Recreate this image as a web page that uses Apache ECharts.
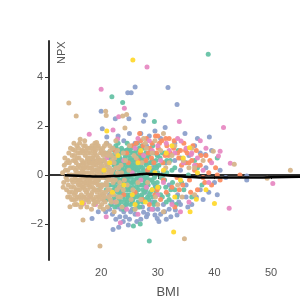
<!DOCTYPE html>
<html><head><meta charset="utf-8">
<script src="https://cdn.jsdelivr.net/npm/echarts@6/dist/echarts.min.js"></script>
<style>html,body{margin:0;padding:0;background:#fff}#c{width:300px;height:300px}</style>
</head><body><div id="c"></div>
<script>
const xTicks = [20, 30, 40, 50];
const yTicks = [-2, 0, 2, 4];

const tanPts = [[13.2,0.1],[13.4,-0.3],[13.5,0.4],[13.8,-0.1],[13.6,0.7],[13.9,-0.6],[14.1,0.2],[14.3,0.9],[14.2,-0.4],[14.5,-0.9],[14.4,0.5],[14.7,0.0],[14.8,-0.2],[14.6,1.1],[14.9,-0.7],[14.5,-1.29],
[15.1,0.3],[15.2,-0.5],[15.3,0.8],[15.4,-0.1],[15.5,-1.0],[15.6,0.5],[15.7,1.2],[15.8,-0.3],[15.9,0.1],[15.3,-0.8],[15.0,1.05],[15.6,-0.6],[15.9,0.9],[15.2,0.0],[15.7,-1.2],[15.4,0.6],[15.8,-0.9],[15.5,0.2],
[16.0,-0.4],[16.1,0.7],[16.2,1.3],[16.3,-0.2],[16.4,0.3],[16.5,-0.8],[16.6,1.0],[16.7,-1.1],[16.8,0.5],[16.9,-0.5],[16.2,0.0],[16.5,0.4],[16.8,-0.1],[16.1,-0.9],[16.6,-0.3],[16.9,0.9],[16.3,1.46],[16.4,-1.3],[16.7,0.2],[16.9,1.2],
[17.0,0.1],[17.1,-0.6],[17.2,0.8],[17.3,-1.0],[17.4,0.4],[17.5,-0.2],[17.6,1.1],[17.7,-0.8],[17.8,0.6],[17.9,-0.4],[17.1,1.4],[17.3,0.0],[17.5,-1.3],[17.7,0.3],[17.9,-0.1],[17.2,-0.3],[17.6,0.7],[17.8,-1.1],[17.4,-0.7],[17.0,0.5],
[18.0,-0.2],[18.1,0.9],[18.2,-0.9],[18.3,0.3],[18.4,1.2],[18.5,-0.5],[18.6,0.0],[18.7,-1.2],[18.8,0.6],[18.9,-0.3],[18.2,0.5],[18.4,-0.7],[18.6,1.0],[18.8,-1.0],[18.1,-0.1],[18.3,-1.4],[18.5,0.2],[18.7,0.8],[18.9,1.3],[18.0,0.7],
[19.0,-0.6],[19.1,0.4],[19.2,1.33],[19.3,-0.1],[19.4,-1.1],[19.5,0.7],[19.6,-0.4],[19.7,0.1],[19.8,-0.8],[19.9,0.9],[19.2,-0.3],[19.4,0.2],[19.6,1.1],[19.8,-1.3],[19.1,-0.9],[19.3,0.6],[19.5,-0.2],[19.7,-0.6],[19.9,0.3],[19.0,1.0],
[20.0,-0.5],[20.2,0.2],[20.4,0.8],[20.6,-0.9],[20.8,0.5],[20.1,-1.2],[20.3,1.1],[20.5,-0.1],[20.7,-0.4],[20.9,1.3],[20.8,2.61],[20.9,2.44],[20.2,-0.7],[20.6,0.0],[20.4,-1.4],[20.7,0.9],
[21.0,0.4],[21.2,-0.6],[21.4,0.9],[21.6,-1.0],[21.8,0.1],[21.3,-0.2],[21.5,1.2],[21.7,-0.8],[21.9,0.6],[21.1,-1.3],[21.5,0.3],
[22.1,-0.3],[22.4,0.7],[22.7,-1.1],[22.9,1.0],[23.2,-0.5],[23.5,0.4],[23.8,2.42],[23.7,-1.3],[24.2,1.92],[24.5,2.48],[22.6,1.4],[23.9,0.9],[23.4,-0.9],[24.1,-0.2],[22.3,-1.5],
[25.0,1.2],[25.6,-0.6],[26.2,0.7],[27.0,-1.0],[27.5,1.5],[28.2,-0.3],[29.0,0.9],[30.0,-1.2],[31.0,1.70],[31.0,-1.5],[32.0,0.5],[33.5,-0.4],[34.7,-2.6],[35.5,0.3],[36.5,-0.8],[38.0,0.6],[39.8,0.97],[43.5,0.44],[49.3,-0.13],[53.4,0.2],
[14.3,2.95],[15.6,2.41],[16.8,-1.84],[19.8,-2.9],
[13.3,-0.5],[13.7,0.2],[13.9,0.5],[14.0,-0.2],[14.2,0.6],[14.4,-0.7],[14.6,0.3],[14.8,-1.0],[14.9,0.8],[14.1,-0.9],[14.7,-0.5],[14.3,0.0],
[15.0,-0.3],[15.1,0.6],[15.3,-1.2],[15.4,1.0],[15.6,-0.2],[15.7,0.1],[15.8,0.7],[15.9,-0.6],[15.2,1.3],[15.5,-0.7],[15.8,0.3],[15.1,-1.0],
[16.0,0.4],[16.1,-0.2],[16.2,-0.6],[16.3,0.9],[16.4,-1.0],[16.5,0.1],[16.6,0.6],[16.7,-0.5],[16.8,1.0],[16.9,-0.9],[16.0,1.1],[16.3,-0.4],[16.6,-1.2],[16.9,0.3],
[17.0,-0.9],[17.1,0.3],[17.2,-0.1],[17.3,1.0],[17.4,-0.4],[17.5,0.6],[17.6,-0.6],[17.7,0.9],[17.8,-0.3],[17.9,0.5],[17.0,-0.3],[17.2,1.2],[17.4,0.1],[17.6,-1.0],[17.8,0.1],[17.9,1.1],
[18.0,0.3],[18.1,-0.5],[18.2,1.1],[18.3,-0.8],[18.4,0.1],[18.5,0.7],[18.6,-0.3],[18.7,0.4],[18.8,-0.6],[18.9,0.9],[18.1,0.5],[18.3,-0.1],[18.5,-1.0],[18.7,-0.1],[18.9,-1.1],[18.2,-0.3],[18.6,0.5],[18.8,1.1],
[19.0,0.2],[19.1,-0.2],[19.2,0.8],[19.3,-0.7],[19.4,0.5],[19.5,-0.9],[19.6,0.3],[19.7,-1.0],[19.8,0.6],[19.9,-0.4],[19.1,1.2],[19.3,0.1],[19.5,1.2],[19.7,0.5],[19.9,-0.9],[19.0,-1.1],[19.4,-0.4],[19.8,0.0],
[20.0,0.6],[20.1,-0.1],[20.2,0.9],[20.3,-0.4],[20.4,0.3],[20.5,-0.8],[20.6,1.2],[20.7,0.2],[20.8,-0.7],[20.9,0.0],[20.1,0.4],[20.3,-1.0],[20.5,0.6],[20.7,-1.1],[20.9,-0.3],[20.0,1.0],
[21.0,-0.4],[21.1,0.2],[21.2,0.8],[21.3,-0.9],[21.4,0.1],[21.5,-0.6],[21.6,0.5],[21.7,0.0],[21.8,-1.1],[21.9,-0.2],[21.2,-0.1],[21.6,1.0],[21.8,0.8],
[22.0,0.2],[22.2,-0.8],[22.3,0.5],[22.5,-0.2],[22.6,0.3],[22.8,-0.6],[22.9,0.1],[22.1,1.1],[22.7,0.9],[23.0,-0.9],[23.1,0.3],[23.3,-0.3],[23.6,0.1],[23.9,-0.6],[24.3,0.6],[24.6,-0.4],[24.9,0.2],[25.3,-1.0],[25.8,0.8],[26.5,-0.3],[27.2,0.5],
[28.0,1.1],[29.6,-0.9],[31.4,0.3],[33.0,1.2],[34.3,-0.9],[36.0,1.1],[26.0,-1.4],[27.8,1.3],[30.5,1.0],[32.5,0.8],[34.5,0.6],[36.5,0.3],[29.5,1.4]];

const tealPts = [[19.5,-0.2],[20.0,0.3],[20.3,-0.8],[20.5,0.6],[20.8,-0.1],[21.0,-1.0],[21.2,0.9],[21.4,-0.4],[21.6,0.2],[21.8,-0.7],[21.9,3.2],
[22.0,0.5],[22.1,-0.2],[22.3,1.0],[22.4,-0.9],[22.5,0.1],[22.6,-0.5],[22.7,0.7],[22.8,-1.2],[22.9,0.3],[22.2,-0.6],[22.4,0.4],[22.6,1.2],[22.8,-0.1],[22.0,-1.1],
[23.0,-0.3],[23.1,0.8],[23.2,-1.0],[23.3,0.2],[23.4,0.6],[23.5,-0.7],[23.6,1.1],[23.7,-0.2],[23.8,0.4],[23.9,-1.3],[23.2,0.0],[23.4,-0.5],[23.6,0.9],[23.8,-0.9],[23.0,1.3],[23.5,0.5],[23.8,2.97],
[24.0,0.1],[24.1,-0.8],[24.2,0.7],[24.3,-0.4],[24.4,1.0],[24.5,-1.1],[24.6,0.3],[24.7,-0.1],[24.8,0.8],[24.9,-0.6],[24.0,-1.4],[24.2,0.4],[24.4,-0.2],[24.6,1.3],[24.8,-0.9],[24.3,0.0],[24.7,0.5],[24.9,1.1],
[25.0,-0.5],[25.1,0.6],[25.2,-1.2],[25.3,0.2],[25.4,0.9],[25.5,-0.3],[25.6,0.4],[25.7,-0.8],[25.8,1.2],[25.9,0.0],[25.2,0.7],[25.4,-0.6],[25.6,-1.0],[25.8,0.3],[25.0,1.0],[25.3,-0.1],[25.9,-1.4],[25.7,-2.08],
[26.0,0.2],[26.1,-0.7],[26.2,1.0],[26.3,-0.2],[26.4,0.5],[26.5,-1.1],[26.6,0.8],[26.7,-0.4],[26.8,0.1],[26.9,-0.9],[26.2,-0.5],[26.4,1.3],[26.6,0.3],[26.8,-1.3],[26.1,0.6],[26.9,-2.0],
[27.0,-0.1],[27.1,0.7],[27.2,-0.8],[27.3,0.3],[27.5,-0.4],[27.6,1.1],[27.7,-1.0],[27.8,0.5],[27.9,0.0],[27.4,-0.6],[27.2,1.2],[27.8,-0.3],
[28.0,0.4],[28.2,-0.9],[28.4,0.8],[28.5,-2.69],[28.6,-0.2],[28.8,1.0],[29.0,-0.6],[29.2,0.2],[29.4,2.19],[29.5,-1.1],[29.7,0.6],[29.9,-0.3],[28.3,0.1],[29.1,1.2],[29.6,-0.5],
[30.2,0.4],[30.5,-0.8],[30.8,0.9],[31.2,-0.2],[31.6,0.6],[32.0,-1.0],[32.5,0.2],[33.0,-0.6],[33.6,1.0],[34.2,-0.3],[35.0,0.5],[36.0,-0.9],[37.0,0.3],[38.9,4.94],[40.5,0.7],
[19.2,0.2],[19.6,-0.6],[19.9,0.5],[20.1,-0.4],[20.4,0.1],[20.6,0.9],[20.9,-0.6],[21.1,0.4],[21.3,-0.1],[21.5,0.7],[21.7,-1.2],[21.9,0.1],
[22.0,-0.4],[22.1,0.8],[22.2,0.2],[22.3,-0.3],[22.4,-1.3],[22.5,0.6],[22.6,-0.9],[22.7,0.0],[22.8,0.5],[22.9,-0.7],[22.1,-1.0],[22.3,0.4],[22.5,-0.6],[22.7,1.1],[22.9,-0.1],
[23.0,0.5],[23.1,-0.5],[23.2,0.9],[23.3,-0.8],[23.4,0.1],[23.5,-0.2],[23.6,0.4],[23.7,-0.6],[23.8,1.0],[23.9,0.2],[23.1,-1.2],[23.3,0.7],[23.5,1.0],[23.7,0.3],[23.9,-0.4],[23.0,0.0],[23.6,-1.1],
[24.0,0.5],[24.1,-0.3],[24.2,-1.0],[24.3,0.8],[24.4,-0.6],[24.5,0.2],[24.6,-0.8],[24.7,1.0],[24.8,0.0],[24.9,-0.3],[24.1,0.9],[24.3,-1.2],[24.5,0.6],[24.7,-0.5],[24.9,0.4],[24.0,-0.1],[24.6,-0.2],[24.2,0.1],
[25.0,0.1],[25.1,-0.8],[25.2,0.4],[25.3,1.1],[25.4,-0.3],[25.5,0.6],[25.6,-0.5],[25.7,0.2],[25.8,-0.2],[25.9,0.7],[25.1,0.0],[25.3,-0.6],[25.5,-1.1],[25.7,0.9],[25.9,-0.7],[25.0,-1.0],[25.4,0.3],[25.8,-0.9],
[26.0,-0.3],[26.1,0.3],[26.2,-0.9],[26.3,0.7],[26.4,-0.1],[26.5,0.2],[26.6,-0.6],[26.7,1.1],[26.8,-0.2],[26.9,0.5],[26.0,0.9],[26.2,0.4],[26.4,-0.8],[26.6,-0.1],[26.8,0.7],[26.3,-1.2],[26.7,0.0],
[27.0,0.4],[27.1,-0.4],[27.2,0.1],[27.3,-1.1],[27.4,0.8],[27.5,0.2],[27.6,-0.7],[27.7,0.6],[27.8,-0.1],[27.9,0.9],[27.1,-0.9],[27.3,0.6],[27.5,-0.2],[27.7,0.0],[27.9,-0.6],
[28.0,-0.5],[28.1,0.7],[28.2,0.2],[28.3,-0.4],[28.4,-1.0],[28.5,0.5],[28.6,0.9],[28.7,-0.7],[28.8,0.1],[28.9,-0.2],[28.1,-0.1],[28.5,-0.8],[28.9,0.5],
[29.0,0.6],[29.1,-0.9],[29.2,-0.3],[29.3,0.9],[29.4,-0.1],[29.5,0.4],[29.6,0.0],[29.7,-0.7],[29.8,0.3],[29.9,0.8],[29.3,-1.2],
[30.0,0.1],[30.2,-0.5],[30.4,0.7],[30.6,-0.1],[30.8,-0.9],[31.0,0.5],[31.2,0.9],[31.4,-0.5],[31.6,0.1],[31.8,-0.8],[32.2,0.6],[32.6,-0.3],[33.0,0.3],[33.4,-0.9],[34.0,0.7],[34.6,-0.6],[35.4,0.0],[36.5,0.6],[37.8,-0.4],
[31.5,-1.1],[33.2,-1.2],[30.9,0.0],[32.3,-0.6]];

const orangePts = [[24.5,0.9],[25.5,1.2],[26.5,0.6],[27.0,1.4],[28.0,1.5],[28.3,0.9],[29.0,1.3],[29.3,0.5],[29.6,1.6],[29.9,-0.6],[30.1,1.1],[30.7,1.4],[31.0,-0.2],[31.3,0.8],[31.6,1.2],[32.2,0.9],[32.5,-0.5],[32.8,1.1],[33.4,-0.1],[33.7,0.7],[34.0,1.0],[34.4,-0.4],[34.8,0.5],[35.2,0.9],[35.6,-0.2],[36.0,0.6],[36.5,0.2],[37.0,-0.6],[37.5,0.4],[38.0,-0.1],[38.5,0.8],[39.0,0.1],[39.5,-0.4],[40.2,0.3],[41.0,-0.2],[44.5,0.0],[22.5,1.0],[20.5,0.9],[26.0,-0.7],[27.2,-1.0],[28.5,-1.2],[30.5,-1.0],[33.0,-1.3],[32.0,1.5],[30.0,1.6],[26.8,1.7],[24.0,-0.8],[28.9,0.7],[34.6,1.3],[36.8,1.0],
[26.2,1.3],[26.9,0.9],[27.4,1.2],[27.9,0.6],[28.6,1.1],[29.8,0.9],[30.3,1.3],[30.9,0.5],[31.4,1.5],[31.9,0.8],[32.9,1.4],[33.5,0.9],[34.2,0.4],[34.9,1.0],[35.5,0.5],[36.2,1.2],[36.9,0.4],[37.6,0.8],[38.3,-0.3],[39.2,0.6],[40.5,0.0],[29.5,-0.8],[31.5,-0.7],[33.8,-0.6],[35.8,-0.7],[24.8,0.5],[28.2,0.2]];

const purplePts = [[20.0,2.61],[22.5,2.3],[24.9,2.3],[27.8,2.46],[27.5,2.2],[26.0,3.6],[24.7,3.36],[25.3,3.36],[31.8,3.58],[33.4,2.89],[31.3,1.95],[39.1,1.56],[38.4,0.84],[20.2,1.89],[21.0,1.56],[45.7,-0.04],[45.7,-0.2],[18.4,-1.77],[22.1,-2.22],[23.1,-2.13],[23.9,-1.9],[24.8,-2.04],[27.5,-1.52],[28.0,-1.7],[29.9,-1.77],[29.5,-1.63],[33.4,-1.63],[33.1,-1.43],
[21.5,-1.4],[22.0,-1.6],[22.8,-1.3],[23.3,-1.7],[24.0,-1.5],[24.5,-1.2],[25.0,-1.8],[25.5,-1.4],[26.0,-1.6],[26.5,-1.3],[27.0,-1.8],[28.5,-1.4],[29.0,-1.1],[30.0,-1.4],[30.5,-1.6],[31.0,-1.2],[31.5,-1.8],[32.0,-1.4],[32.5,-1.1],[34.0,-1.2],[35.0,-0.9],[36.0,-1.2],[37.5,-0.6],[39.0,-0.7],[40.0,-0.3],[42.0,-0.1],[20.5,-1.0],[19.5,-1.5],[18.5,0.6],[21.0,1.3],[22.0,1.1],[23.0,1.6],[24.0,1.4],[25.0,1.7],[26.0,1.3],[27.0,0.9],[28.0,1.2],[29.0,0.3],[30.0,0.8],[31.0,0.1],[32.0,-0.4],[33.0,0.6],[34.0,0.2],[35.5,0.8],[36.5,1.2],[37.5,0.9],[38.5,0.3],[23.8,-0.6],[25.8,0.5],[27.8,-0.7],[26.8,0.0],[29.5,-0.4],[31.5,0.5],[33.5,-0.8],[35.0,-0.4],[22.5,-0.3],[24.5,0.2],
[20.8,-1.5],[21.8,-1.2],[22.6,-1.8],[23.5,-1.4],[24.3,-1.7],[25.2,-1.5],[26.3,-1.9],[27.3,-1.3],[28.2,-1.6],[29.2,-1.4],[30.2,-1.9],[31.2,-1.5],[32.3,-1.7],[33.7,-1.1],[35.3,-1.3],[36.8,-0.9],[38.0,-1.0],[40.5,-0.8],[41.0,0.2],[39.5,1.0],[37.0,1.5],[34.8,1.7],[33.0,1.3],[30.5,1.5],[29.5,1.8],[28.5,1.6],[27.0,1.7],[24.5,1.0],[22.8,0.8],[21.5,-0.8]];

const pinkPts = [[28.1,4.42],[20.0,3.51],[24.1,2.73],[23.1,2.38],[22.1,1.84],[22.9,1.48],[17.9,1.67],[33.8,2.19],[41.6,1.95],[34.1,1.39],[40.7,0.78],[41.0,0.97],[35.9,0.84],[42.8,0.48],[50.3,-0.34],[42.6,-1.36],[20.9,-1.7],[16.9,-1.16],[23.4,-1.95],
[26.0,1.1],[27.5,0.8],[29.0,1.0],[30.5,0.6],[31.5,1.3],[33.0,0.9],[34.5,0.5],[36.5,0.4],[37.5,1.4],[38.5,1.1],[39.5,0.5],[28.0,-0.5],[30.0,-0.8],[32.5,-1.2],[35.5,-1.1],[24.5,-1.4],[22.5,-1.1],[19.0,-1.2],[18.0,-0.9],[21.0,0.7],[25.5,0.1],[27.0,-0.2],
[26.5,1.5],[28.5,1.4],[30.0,1.2],[32.0,1.0],[33.5,1.5],[35.0,1.1],[36.0,0.9],[37.0,0.7],[38.0,0.2],[39.0,-0.3],[31.0,-0.3],[29.0,-1.4],[26.5,-1.6],[34.0,-1.5],[24.0,0.6]];

const yellowPts = [[25.6,4.7],[21.0,1.8],[35.6,1.12],[40.0,-1.16],[35.7,-1.5],[36.8,-0.99],[32.8,-2.33],[16.6,-1.13],[24.0,-0.4],[25.5,-0.8],[26.5,0.5],[28.5,0.3],[30.0,-0.5],[31.5,0.9],[33.0,-0.9],[22.0,-0.7],[20.5,0.2],[34.5,0.7],[27.8,-1.1],[29.5,0.1],
[23.0,0.8],[27.0,1.0],[29.0,-0.6],[31.0,0.2],[32.5,1.2],[34.0,-0.2],[37.0,0.1],[26.0,-1.2],[21.5,0.5],[38.5,-0.6]];

const smoothBMI = [13.6, 16, 18, 20, 22, 24, 26, 28, 30, 32, 34, 36, 38, 40, 45, 50, 55.1];
const smoothNPX = [-0.01, -0.03, -0.05, -0.06, -0.04, -0.02, 0.01, 0.05, 0.03, -0.02, -0.05, -0.08, -0.1, -0.1, -0.1, -0.09, -0.07];

const chart = echarts.init(document.getElementById('c'), null, {renderer: 'canvas'});
const fmt = v => (v < 0 ? '\u2212' + Math.abs(v) : String(v));
function sc(data, color) {
  return {type: 'scatter', data: data, symbolSize: 5, itemStyle: {color: color, opacity: 0.95}, silent: true, animation: false};
}
chart.setOption({
  animation: false,
  grid: {left: 49, right: 0, top: 41, bottom: 40, containLabel: false, outerBoundsMode: 'none'},
  xAxis: {
    type: 'value', min: 10.8, max: 55.1,
    name: 'BMI', nameLocation: 'middle', nameGap: 26,
    nameTextStyle: {color: '#555', fontSize: 13, fontFamily: 'Liberation Sans, Arial, sans-serif', padding: [0, 13, 0, 0]},
    axisLine: {lineStyle: {color: '#333', width: 2}},
    axisTick: {show: true, length: 4, lineStyle: {color: '#333'}, customValues: xTicks},
    axisLabel: {color: '#555', fontSize: 11, fontFamily: 'Liberation Sans, Arial, sans-serif', margin: 7, customValues: xTicks},
    splitLine: {show: false}
  },
  yAxis: {
    type: 'value', min: -3.47, max: 5.48,
    axisLine: {show: true, lineStyle: {color: '#333', width: 2}},
    axisTick: {show: true, length: 4, lineStyle: {color: '#333'}, customValues: yTicks},
    axisLabel: {color: '#555', fontSize: 11, fontFamily: 'Liberation Sans, Arial, sans-serif', margin: 6, customValues: yTicks, formatter: fmt},
    splitLine: {show: false}
  },
  graphic: [{
    type: 'text', x: 56, y: 64, rotation: Math.PI / 2,
    style: {text: 'NPX', fill: '#555', fontSize: 11, fontFamily: 'Liberation Sans, Arial, sans-serif', textVerticalAlign: 'top'}
  }],
  series: [
    sc(purplePts, '#8da0cb'),
    sc(tealPts, '#66c2a5'),
    sc(orangePts, '#fc8d62'),
    sc(pinkPts, '#e78ac3'),
    sc(tanPts, '#d6b58b'),
    sc(yellowPts, '#ffd92f'),
    {type: 'line', data: smoothBMI.map((b, i) => [b, smoothNPX[i]]), smooth: true, symbol: 'none',
     lineStyle: {color: '#000', width: 2.5}, z: 10, silent: true, animation: false}
  ]
});
</script></body></html>
